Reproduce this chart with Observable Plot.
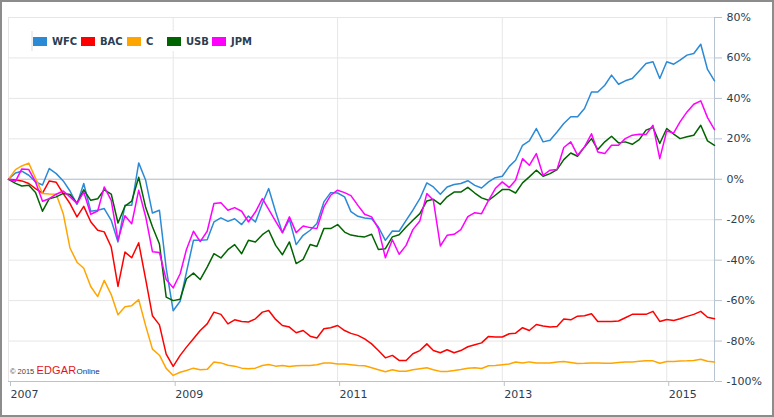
<!DOCTYPE html>
<html>
<head>
<meta charset="utf-8">
<script src="https://cdn.jsdelivr.net/npm/d3@7"></script>
<script src="https://cdn.jsdelivr.net/npm/@observablehq/plot@0.6"></script>
<style>
  body { margin: 0; background: #fff; }
  #wrap { position: relative; width: 774px; height: 417px; overflow: hidden; background: #fff; }
  #frame { position: absolute; left: 0; top: 0; width: 774px; height: 417px; box-sizing: border-box; border: 2px solid #8c8c8c; pointer-events: none; }
  #legend { position: absolute; left: 31px; top: 31px; width: 225px; height: 20px; background: #fff; border-left: 2px solid #eeeeee; }
  .li { position: absolute; top: 0; height: 20px; display: flex; align-items: center; font: bold 10px "DejaVu Sans", sans-serif; color: #2b3d50; white-space: nowrap; }
  .sw { width: 14px; height: 9px; margin-right: 5px; }
  #credit { position: absolute; left: 10px; top: 362px; font-family: Arial, "Liberation Sans", sans-serif; white-space: nowrap; line-height: 14px; }
  #credit .c { font-size: 7.5px; color: #444; }
  #credit .e { font-size: 11px; color: #e0141e; letter-spacing: 0.2px; }
  #credit .o { font-size: 8px; color: #1c2a78; }
</style>
</head>
<body>
<div id="wrap"></div>
<script>
// ---- data (monthly, % change since Jan 2007) ----
const seriesNames = ["WFC", "BAC", "C", "USB", "JPM"];
const seriesColors = ["#2a8ad6", "#ff0000", "#ffa500", "#006400", "#ff00ff"];
const yTickValues = [80, 60, 40, 20, 0, -20, -40, -60, -80, -100];
const xTickYears = [2007, 2009, 2011, 2013, 2015];

const WFC = [0, 3.1, 4, 2, -1.3, -2.8, 5.3, 2.8, -0.8, -5.8,
  -12.4, -2.1, -15.8, -15.3, -14.5, -20.3, -31, -12.9, -12.9, 8.1,
  -0.5, -16.7, -15.3, -44, -65, -60.3, -45.9, -30.2, -30.2, -29.9,
  -21.1, -19.1, -20.8, -19.5, -22.4, -18.2, -21.1, -12, -4.6, -16.2,
  -26.4, -19.8, -32.3, -27.7, -25.2, -21.9, -11.2, -6.6, -6.8, -8.7,
  -16, -18.3, -19.1, -19.5, -23.6, -30.2, -25.6, -25.7, -20.3, -15.3,
  -9.6, -1.8, -3.8, -7.4, -3.8, -2.6, -2.1, -0.7, -3, -4.3,
  -1.3, 0.8, 1.5, 6.4, 9.4, 16.8, 19, 25.1, 18.5, 19.3,
  23.4, 27.6, 30.9, 30.9, 35, 43.2, 43.2, 46.5, 51.5, 47,
  48.7, 49.8, 53.6, 57.3, 58.1, 49.8, 58.1, 56.9, 58.9, 61.4,
  62.2, 66.8, 54.3, 48.7];

const BAC = [0, -0.3, -0.8, -2.1, -4.6, -6.8, -0.8, -1.5, -7.1, -12,
  -18.6, -13.4, -21, -25.2, -26, -33.5, -53, -36, -38.8, -31.4,
  -49.5, -67.5, -72, -86.5, -92.5, -87.1, -83, -78.9, -74.8, -71.5,
  -65.7, -66.8, -71.5, -69.5, -70.3, -70.6, -69, -65.7, -64.9, -69.3,
  -72.3, -73.1, -75.9, -74.8, -77.6, -78.5, -73.9, -73.4, -72.3, -74.8,
  -76.2, -77.2, -78.9, -81.4, -84.7, -88.3, -87.1, -89.6, -89.6, -86.3,
  -84.7, -81.4, -84.7, -85.8, -84.3, -85.8, -84.7, -82.8, -81.8, -80.9,
  -77.7, -78, -78, -76.4, -76.1, -73.4, -74.8, -71.8, -72.6, -73.1,
  -72.8, -69.1, -69.5, -67.7, -67.5, -66.5, -70.3, -70.3, -70.3, -70.1,
  -68.5, -66.8, -66.8, -66.8, -65.3, -70.3, -69.3, -69.8, -69, -67.8,
  -66.8, -65.3, -68.2, -69];

const C = [0, 4.8, 6.6, 8, 0.5, -7, -7.3, -7.4, -17, -34,
  -41, -44, -53, -58, -50, -57, -67, -63, -62.5, -59.5,
  -72.5, -84, -87, -93.5, -97, -95.4, -94.6, -93.4, -94.2, -94,
  -90.4, -90.8, -92, -92.4, -93.4, -93.7, -93.4, -92.1, -91.6, -92.4,
  -92.1, -92.6, -92.2, -92.1, -92.1, -91.7, -90.9, -90.9, -91.4, -91.4,
  -91.7, -92.1, -92.2, -93.2, -94.2, -95.2, -94.2, -94.9, -94.9, -94.2,
  -93.7, -93.2, -94.2, -95, -95, -94.6, -94.1, -93.4, -93.2, -93.6,
  -92.2, -92.1, -91.7, -91.3, -90.4, -90.9, -90.3, -90.8, -90.8, -90.8,
  -90.3, -90.1, -90.6, -91.1, -91, -90.8, -90.8, -91, -91, -90.6,
  -90.3, -90.3, -90, -89.8, -89.8, -91, -90.1, -90.1, -89.9, -89.8,
  -89.6, -89, -90, -90.4];

const USB = [0, -2, -3.3, -3, -6.5, -15.8, -9.6, -8.7, -7, -7.5,
  -11.8, -5.2, -10.4, -9.6, -5.2, -7.3, -21.6, -13.3, -10.8, 1,
  -14, -23.5, -32, -58.3, -60, -59.3, -49.2, -46.4, -49.6, -43.4,
  -36.8, -38.9, -34.8, -32.3, -36.8, -30.2, -31, -27.4, -25.2, -32.7,
  -37.3, -31, -41.7, -39.6, -32.3, -33.2, -24.4, -24.4, -22.4, -26.1,
  -27.6, -28.2, -28.5, -27.2, -34.7, -34.3, -28.5, -27.4, -23.6, -20.3,
  -17, -10.7, -9.9, -12.4, -8.7, -6.3, -6.3, -4, -6.8, -9.2,
  -10.4, -7.9, -5.1, -5.1, -6.8, -1.8, 1.2, 4.5, 1.5, 2.8,
  4.8, 9.7, 13, 11.4, 16, 20.1, 14.7, 18.5, 21.3, 18,
  18.5, 17.3, 19.6, 24.3, 25.6, 17.7, 25.1, 22.3, 20.1, 21,
  21.8, 26.7, 19, 16.8];

const JPM = [0, -1, 5.1, 4.8, -1.3, -10.9, -9.6, -7.4, -5.8, -8.7,
  -12, -6.3, -17.3, -15.7, -3.8, -10.4, -30.2, -18, -22, -5.4,
  -18.5, -35.8, -36.2, -49.6, -53.7, -46.7, -34.7, -25.7, -30.8, -25.7,
  -12, -11.6, -15.3, -14, -15.8, -21.1, -16.2, -9.6, -14.9, -20.8,
  -26.4, -18.6, -26.4, -23.1, -23.9, -24.4, -13.7, -7.9, -5.4, -6.6,
  -8.1, -12.9, -17.3, -18.6, -24.4, -38.8, -29.9, -37.1, -32.7, -24.9,
  -20.6, -7.1, -10.4, -33, -27.7, -27.2, -24.9, -18.5, -16.5, -17,
  -10.4, -4.6, -1.3, -4.1, -0.5, 10.2, 6.9, 12.7, 2, 4.5,
  4.8, 15.7, 18.5, 11.9, 16, 22.5, 13.5, 12.7, 16.8, 16.8,
  20.1, 21.8, 22.3, 22.1, 26.7, 10.2, 23.9, 22.9, 28.4, 33.3,
  37.1, 38.8, 30.5, 24.6];

// ---- build table ----
const dates = d3.utcMonth.range(new Date(Date.UTC(2007, 0, 1)), new Date(Date.UTC(2015, 8, 1)));
const seriesValues = [WFC, BAC, C, USB, JPM];
const rows = seriesNames.flatMap((name, s) =>
  seriesValues[s].map((v, i) => ({date: dates[i], value: v, name})));
const xTicks = xTickYears.map(y => new Date(Date.UTC(y, 0, 1)));
const lastDate = dates[dates.length - 1];

const axisBlue = "#b7c3cf";
const textCol = "#2b3d50";

const chart = Plot.plot({
  width: 774,
  height: 417,
  marginLeft: 8,
  marginRight: 60,
  marginTop: 17,
  marginBottom: 36,
  style: {fontFamily: "'DejaVu Sans', sans-serif", fontSize: "11px", background: "#fff", color: textCol},
  x: {type: "utc", domain: [dates[0], lastDate]},
  y: {domain: [-100, 80]},
  color: {domain: seriesNames, range: seriesColors},
  marks: [
    Plot.gridY(yTickValues, {stroke: "#e6e6e6", strokeOpacity: 1}),
    Plot.gridX(xTicks, {stroke: "#e6e6e6", strokeOpacity: 1}),
    Plot.ruleY([0], {stroke: axisBlue}),
    Plot.ruleY([-100], {stroke: axisBlue}),
    Plot.ruleX([lastDate], {stroke: axisBlue}),
    Plot.axisY(yTickValues, {anchor: "right", tickSize: 7, tickPadding: 5, stroke: axisBlue, fill: textCol,
      tickFormat: d => d + "%", label: null}),
    Plot.axisX(xTicks, {anchor: "bottom", tickSize: 5, tickPadding: 4, stroke: axisBlue, fill: textCol,
      tickFormat: d3.utcFormat("%Y"), textAnchor: "start", dx: 2, label: null}),
    Plot.line(rows, {x: "date", y: "value", z: "name", stroke: "name", strokeWidth: 1.5})
  ]
});

const wrap = document.getElementById("wrap");
wrap.appendChild(chart);

// legend (HTML overlay, inside plot area)
const legend = document.createElement("div");
legend.id = "legend";
const legendLefts = [0, 48, 94, 134, 179];
seriesNames.forEach((n, i) => {
  const it = document.createElement("div");
  it.className = "li";
  it.style.left = legendLefts[i] + "px";
  it.innerHTML = `<span class="sw" style="background:${seriesColors[i]}"></span><span>${n}</span>`;
  legend.appendChild(it);
});
wrap.appendChild(legend);

// credit
const credit = document.createElement("div");
credit.id = "credit";
credit.innerHTML = '<span class="c">© 2015 </span><span class="e">EDGAR</span><span class="o">Online</span>';
wrap.appendChild(credit);

// outer frame
const frame = document.createElement("div");
frame.id = "frame";
wrap.appendChild(frame);
</script>
</body>
</html>
